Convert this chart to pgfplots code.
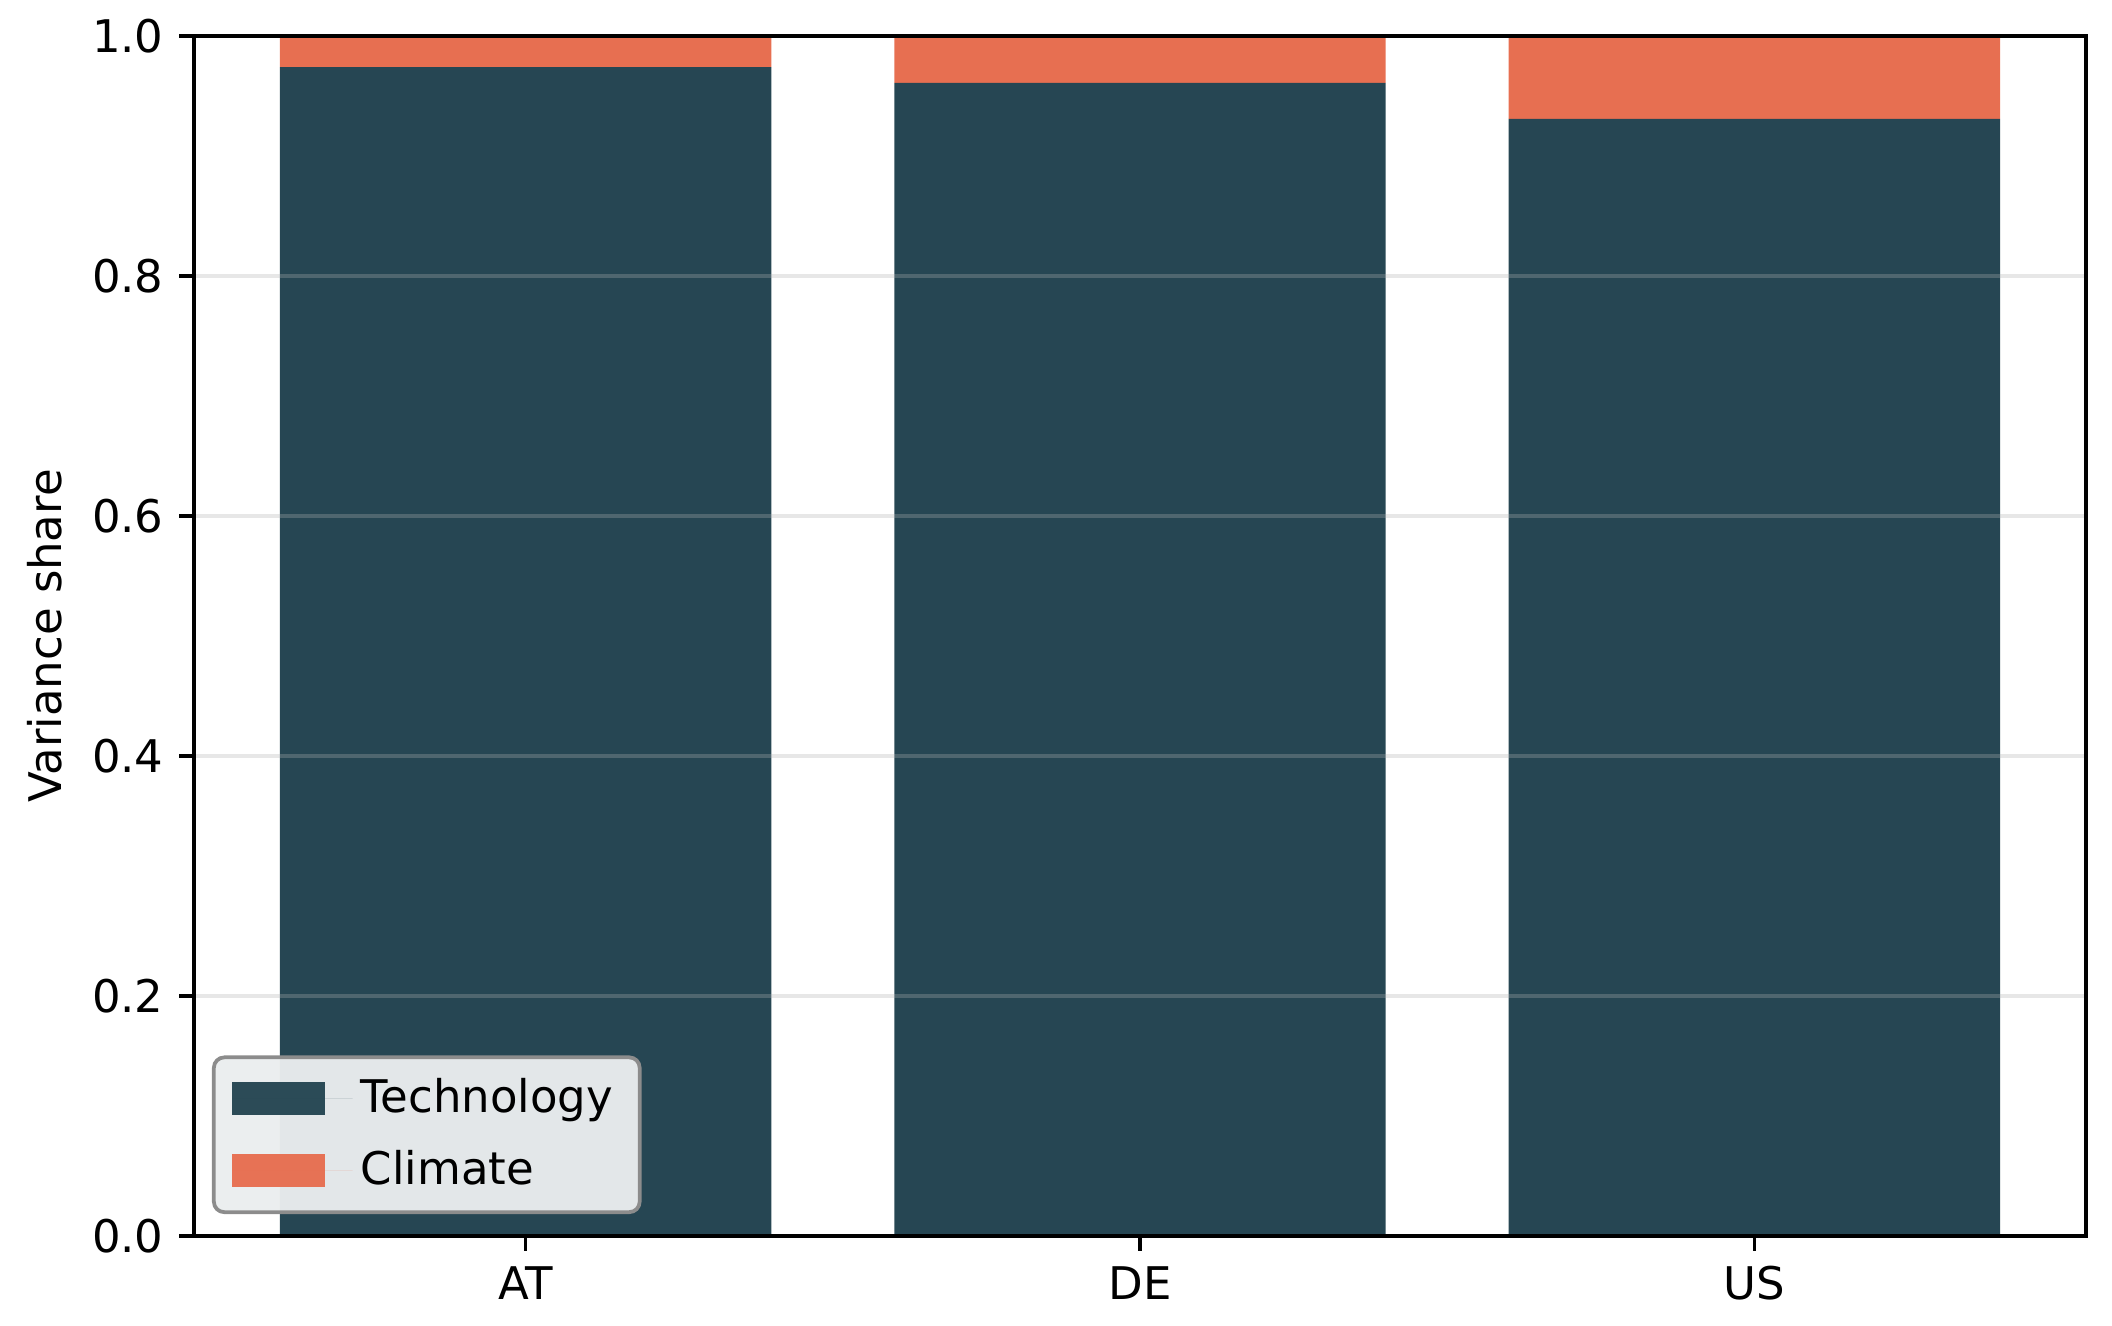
\documentclass[border=0pt]{standalone}
\usepackage{fontspec}
\setmainfont{DejaVu Sans}
\usepackage{pgfplots}
\pgfplotsset{compat=1.18}
\definecolor{tech}{HTML}{264653}
\definecolor{clim}{HTML}{E76F51}
\definecolor{legfill}{HTML}{EAEDEE}
\definecolor{gridc}{HTML}{B0B0B0}
\begin{document}
\fontsize{10.8pt}{13pt}\selectfont
\begin{tikzpicture}
\begin{axis}[
  name=ax,
  scale only axis,
  width=454.08pt, height=288pt,
  xmin=-0.54, xmax=2.54,
  ymin=0, ymax=1,
  ybar stacked,
  bar width=0.8,
  xtick={0,1,2},
  xticklabels={AT,DE,US},
  ytick={0,0.2,0.4,0.6,0.8,1.0},
  yticklabel style={/pgf/number format/fixed,/pgf/number format/precision=1,/pgf/number format/fixed zerofill},
  /pgf/number format/assume math mode=true,
  tick align=outside,
  xtick pos=bottom, ytick pos=left,
  major tick length=3.5pt,
  every tick/.style={black, line width=0.8pt},
  axis line style={black, line width=0.8pt},
  axis on top,
  ymajorgrids,
  grid style={gridc, opacity=0.3, line width=0.8pt},
  ylabel={Variance share},
  ylabel style={at={(axis description cs:-0.079,0.5)}, anchor=center},
  tick label style={font=\fontsize{10.8pt}{13pt}\selectfont},
  label style={font=\fontsize{10.8pt}{13pt}\selectfont},
  legend style={at={(axis description cs:0.0095,0.0183)}, anchor=south west,
    fill=legfill, fill opacity=0.97, text opacity=1, draw=gray!90, line width=0.9pt, rounded corners=2.5pt,
    font=\fontsize{10.8pt}{13pt}\selectfont,
    inner xsep=4.4pt, inner ysep=3pt, row sep=3.5pt},
  legend cell align=left,
  legend image code/.code={\fill[#1, sharp corners] (0pt,-3.95pt) rectangle (22.3pt,3.95pt);
    \path (0pt,0pt) -- (28.9pt,0pt);},
  every axis plot/.append style={draw=none},
]
\addplot[fill=tech] coordinates {(0,0.974) (1,0.961) (2,0.931)};
\addplot[fill=clim] coordinates {(0,0.026) (1,0.039) (2,0.069)};
\legend{Technology, Climate}
\end{axis}
\pgfresetboundingbox
\useasboundingbox (ax.south west) ++(-46.56pt,-21.6pt) rectangle ++(506.88pt,318.24pt);
\end{tikzpicture}
\end{document}
